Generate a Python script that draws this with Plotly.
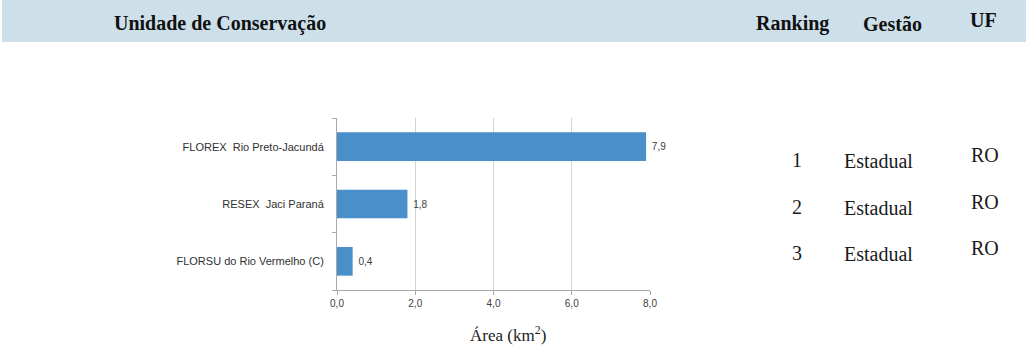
import plotly.graph_objects as go

# Data
unidades = ["FLOREX  Rio Preto-Jacundá", "RESEX  Jaci Paraná", "FLORSU do Rio Vermelho (C)"]
areas_km2 = [7.9, 1.8, 0.4]
ranking = ["1", "2", "3"]
gestao = ["Estadual", "Estadual", "Estadual"]
uf = ["RO", "RO", "RO"]
x_ticks = [0, 2, 4, 6, 8]

W, H = 1026, 349
L, R, T, B = 337, 650, 118, 290  # plot area in pixels


def px(xp):
    return (xp - L) / (R - L)


def py(yp):
    return (B - yp) / (B - T)


fig = go.Figure(
    go.Bar(
        x=areas_km2,
        y=unidades,
        orientation="h",
        marker=dict(color="#4a8fc9", line=dict(width=0)),
        texttemplate=" %{x:.1f}",
        textposition="outside",
        textfont=dict(family="Liberation Sans", size=10, color="#404040"),
        cliponaxis=False,
        hoverinfo="skip",
    )
)

fig.update_layout(
    width=W,
    height=H,
    margin=dict(l=L, r=W - R, t=T, b=H - B, pad=0),
    paper_bgcolor="white",
    plot_bgcolor="white",
    separators=", ",
    bargap=0.5,
    showlegend=False,
    xaxis=dict(
        range=[0, 8],
        tickvals=x_ticks,
        tickformat=".1f",
        showgrid=True,
        gridcolor="#d4d4d4",
        gridwidth=1,
        showline=True,
        linecolor="#a8a8a8",
        ticks="outside",
        ticklen=4,
        tickcolor="#a8a8a8",
        tickfont=dict(family="Liberation Sans", size=10, color="#404040"),
        zeroline=False,
        fixedrange=True,
    ),
    yaxis=dict(
        categoryorder="array",
        categoryarray=unidades[::-1],
        showline=True,
        linecolor="#a8a8a8",
        ticks="outside",
        tickson="boundaries",
        ticklen=4,
        tickcolor="#a8a8a8",
        ticklabelstandoff=10,
        tickfont=dict(family="Liberation Sans", size=11, color="#303030"),
        showgrid=False,
        fixedrange=True,
    ),
)

# Header band
fig.add_shape(
    type="rect", xref="paper", yref="paper",
    x0=px(2), x1=px(W), y0=py(42), y1=py(0),
    fillcolor="#cde0ea", line=dict(width=0), layer="below",
)

serif = "Liberation Serif"
header = [
    ("Unidade de Conservação", 112, 24),
    ("Ranking", 754, 24),
    ("Gestão", 861, 24),
    ("UF", 968, 20),
]
for txt, xp, yp in header:
    fig.add_annotation(
        text=f"<b>{txt}</b>", xref="paper", yref="paper",
        x=px(xp), y=py(yp), xanchor="left", yanchor="middle",
        showarrow=False, font=dict(family=serif, size=20, color="#111111"),
    )

# Axis title
fig.add_annotation(
    text="Área (km<sup>2</sup>)", xref="paper", yref="paper",
    x=px(508), y=py(334), xanchor="center", yanchor="middle",
    showarrow=False, font=dict(family=serif, size=17, color="#222222"),
)

# Table columns beside the chart
row_y = [160, 207, 253]
for i in range(len(unidades)):
    fig.add_annotation(
        text=ranking[i], xref="paper", yref="paper",
        x=px(797), y=py(row_y[i]), xanchor="center", yanchor="middle",
        showarrow=False, font=dict(family=serif, size=20, color="#1a1a1a"),
    )
    fig.add_annotation(
        text=gestao[i], xref="paper", yref="paper",
        x=px(842), y=py(row_y[i] + 1), xanchor="left", yanchor="middle",
        showarrow=False, font=dict(family=serif, size=20, color="#1a1a1a"),
    )
    fig.add_annotation(
        text=uf[i], xref="paper", yref="paper",
        x=px(969), y=py(row_y[i] - 5), xanchor="left", yanchor="middle",
        showarrow=False, font=dict(family=serif, size=20, color="#1a1a1a"),
    )

fig.write_html("out.html")
